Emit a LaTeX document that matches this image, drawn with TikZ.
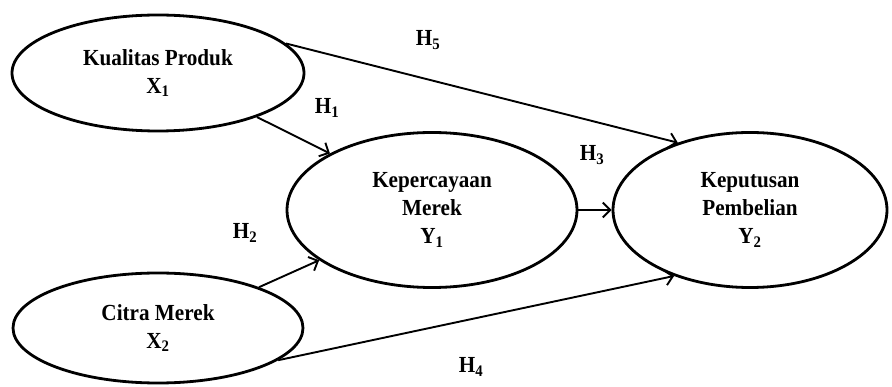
\documentclass[tikz,border=0pt]{standalone}
\usepackage{fontspec}
\setmainfont{Liberation Serif}[FakeStretch=0.92]
\usetikzlibrary{shapes.geometric,arrows.meta}
\tikzset{
  latent/.style={ellipse, draw=black, line width=2.8pt, inner sep=0pt, align=center,
    font=\fontsize{23}{28}\selectfont\bfseries},
  hyp/.style={-{Straight Barb[length=7.5pt,width=15pt]}, line width=1.9pt},
  hlabel/.style={inner sep=0pt, font=\fontsize{23}{26}\selectfont\bfseries}
}
\begin{document}
\begin{tikzpicture}[x=1pt,y=-1pt]
\useasboundingbox (0,0) rectangle (892,387);
\fill[white] (0,0) rectangle (892,387);
\node[latent, minimum width=292pt, minimum height=116pt] (x1) at (158,73)
  {Kualitas Produk\\X\textsubscript{1}};
\node[latent, minimum width=290pt, minimum height=155pt] (y1) at (432,210)
  {Kepercayaan\\Merek\\Y\textsubscript{1}};
\node[latent, minimum width=274pt, minimum height=155pt] (y2) at (750,210)
  {Keputusan\\Pembelian\\Y\textsubscript{2}};
\node[latent, minimum width=290pt, minimum height=110pt] (x2) at (158,328)
  {Citra Merek\\X\textsubscript{2}};
\draw[hyp] (x1.-24) -- (y1.151.5);
\draw[hyp] (x1.13.5) -- (y2.137.5);
\draw[hyp] (y1.east) -- (y2.west);
\draw[hyp] (x2.22.4) -- (y1.204.3);
\draw[hyp] (x2.-15) -- (y2.221);
\node[hlabel] (h5) at (428,40) {H\textsubscript{5}};
\node[hlabel] (h1) at (327,108) {H\textsubscript{1}};
\node[hlabel] (h3) at (592,155) {H\textsubscript{3}};
\node[hlabel] (h2) at (245,233) {H\textsubscript{2}};
\node[hlabel] (h4) at (471,367) {H\textsubscript{4}};
\end{tikzpicture}
\end{document}
